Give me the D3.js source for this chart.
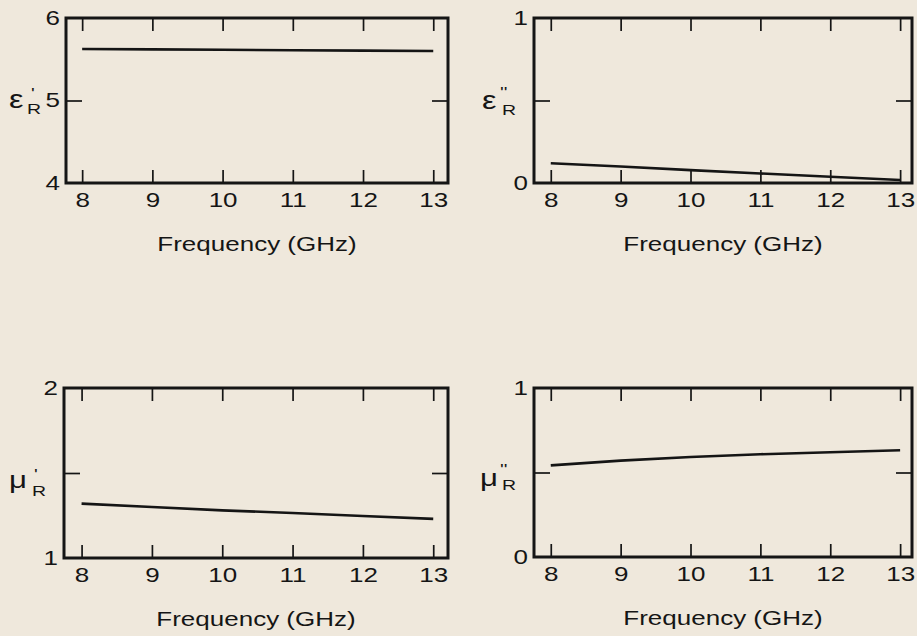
<!DOCTYPE html>
<html><head><meta charset="utf-8">
<script src="https://cdn.jsdelivr.net/npm/d3@7"></script>
<style>
body{margin:0;background:#efe8dc}
text{font-family:"Liberation Sans",Arial,Helvetica,sans-serif;fill:#151515}
</style>
</head><body>
<svg id="c" width="917" height="636"></svg>
<script>
// ---- data ----
const freq = [8, 9, 10, 11, 12, 13];
const xTickValues = [8, 9, 10, 11, 12, 13];
const epsReal = [5.625, 5.62, 5.615, 5.61, 5.605, 5.60];
const epsImag = [0.12, 0.10, 0.078, 0.058, 0.038, 0.018];
const muReal = [1.32, 1.30, 1.28, 1.265, 1.247, 1.23];
const muImag = [0.542, 0.57, 0.592, 0.608, 0.62, 0.632];
const epsRealTicks = [4, 5, 6], epsRealTickLabels = ["4", "5", "6"];
const epsImagTicks = [0, 0.5, 1], epsImagTickLabels = ["0", "", "1"];
const muRealTicks = [1, 1.5, 2], muRealTickLabels = ["1", "", "2"];
const muImagTicks = [0, 0.5, 1], muImagTickLabels = ["0", "", "1"];
const xTitle = "Frequency (GHz)";

// ---- layout ----
const SX = 1.3;
const svg = d3.select("#c");
const panels = [
  {vals: epsReal, ticks: epsRealTicks, labels: epsRealTickLabels, ydom: [4, 6], xdom: [7.77, 13.21],
   box: {l: 66, r: 448, t: 18, b: 183}, sym: "ε", symSize: 25, prime: "'",
   symPos: [-57, 7], rPos: [-39, 14], pPos: [-35, -3]},
  {vals: epsImag, ticks: epsImagTicks, labels: epsImagTickLabels, ydom: [0, 1], xdom: [7.76, 13.17],
   box: {l: 534, r: 912, t: 18, b: 183}, sym: "ε", symSize: 25, prime: "''",
   symPos: [-52, 8], rPos: [-32, 15], pPos: [-34, -4]},
  {vals: muReal, ticks: muRealTicks, labels: muRealTickLabels, ydom: [1, 2], xdom: [7.75, 13.21],
   box: {l: 64, r: 448, t: 388, b: 558}, sym: "μ", symSize: 24, prime: "'",
   symPos: [-55, 15], rPos: [-32, 23], pPos: [-30, 6]},
  {vals: muImag, ticks: muImagTicks, labels: muImagTickLabels, ydom: [0, 1], xdom: [7.76, 13.17],
   box: {l: 534, r: 912, t: 388, b: 557}, sym: "μ", symSize: 24, prime: "''",
   symPos: [-54, 13], rPos: [-32, 18], pPos: [-34, 1]}
];

function stext(g, x, y, str, size, anchor) {
  return g.append("text")
    .attr("transform", `translate(${x},${y}) scale(${SX},1)`)
    .attr("font-size", size)
    .attr("text-anchor", anchor || "start")
    .text(str);
}

panels.forEach(p => {
  const B = p.box;
  const x = d3.scaleLinear().domain(p.xdom).range([B.l, B.r]);
  const y = d3.scaleLinear().domain(p.ydom).range([B.b, B.t]);
  const g = svg.append("g");

  // ticks via axes
  const bottom = g.append("g").attr("transform", `translate(0,${B.b})`)
    .call(d3.axisBottom(x).tickValues(xTickValues).tickSize(-13).tickPadding(10).tickFormat(d3.format("d")));
  const top = g.append("g").attr("transform", `translate(0,${B.t})`)
    .call(d3.axisTop(x).tickValues(xTickValues).tickSize(-13).tickFormat(""));
  const left = g.append("g").attr("transform", `translate(${B.l},0)`)
    .call(d3.axisLeft(y).tickValues(p.ticks).tickSize(-16).tickPadding(5).tickFormat((d, i) => p.labels[i]));
  const right = g.append("g").attr("transform", `translate(${B.r},0)`)
    .call(d3.axisRight(y).tickValues(p.ticks).tickSize(-16).tickFormat(""));
  [bottom, top, left, right].forEach(a => {
    a.select(".domain").remove();
    a.selectAll(".tick line").attr("stroke", "#151515").attr("stroke-width", 1.7);
    a.selectAll("text").attr("font-size", 20).attr("fill", "#151515")
      .attr("font-family", "Liberation Sans, Arial, sans-serif");
  });
  bottom.selectAll("text").attr("transform", `scale(${SX},1)`);
  left.selectAll("text").attr("transform", `scale(${SX},1)`).attr("x", -6 / SX);
  left.selectAll("text").filter(function () { return this.textContent === ""; }).remove();
  top.selectAll("text").remove();
  right.selectAll("text").remove();
  left.selectAll(".tick line").filter(d => d === p.ydom[0] || d === p.ydom[1]).remove();
  right.selectAll(".tick line").filter(d => d === p.ydom[0] || d === p.ydom[1]).remove();

  // frame
  g.append("rect").attr("x", B.l).attr("y", B.t).attr("width", B.r - B.l).attr("height", B.b - B.t)
    .attr("fill", "none").attr("stroke", "#151515").attr("stroke-width", 3);

  // data line
  const line = d3.line().x((d, i) => x(freq[i])).y(d => y(d));
  g.append("path").datum(p.vals).attr("d", line)
    .attr("fill", "none").attr("stroke", "#151515").attr("stroke-width", 2.6);

  // x title
  stext(g, (B.l + B.r) / 2, B.b + 68, xTitle, 20, "middle");

  // y label as one text element with tspans
  const mid = (B.t + B.b) / 2;
  const t = g.append("text")
    .attr("transform", `translate(${B.l},${mid}) scale(${SX},1)`);
  t.append("tspan").attr("x", p.symPos[0] / SX).attr("y", p.symPos[1])
    .attr("font-size", p.symSize).text(p.sym);
  t.append("tspan").attr("x", p.rPos[0] / SX).attr("y", p.rPos[1])
    .attr("font-size", 15).text("R");
  t.append("tspan").attr("x", p.pPos[0] / SX).attr("y", p.pPos[1])
    .attr("font-size", 15).text(p.prime);
});
</script>
</body></html>
